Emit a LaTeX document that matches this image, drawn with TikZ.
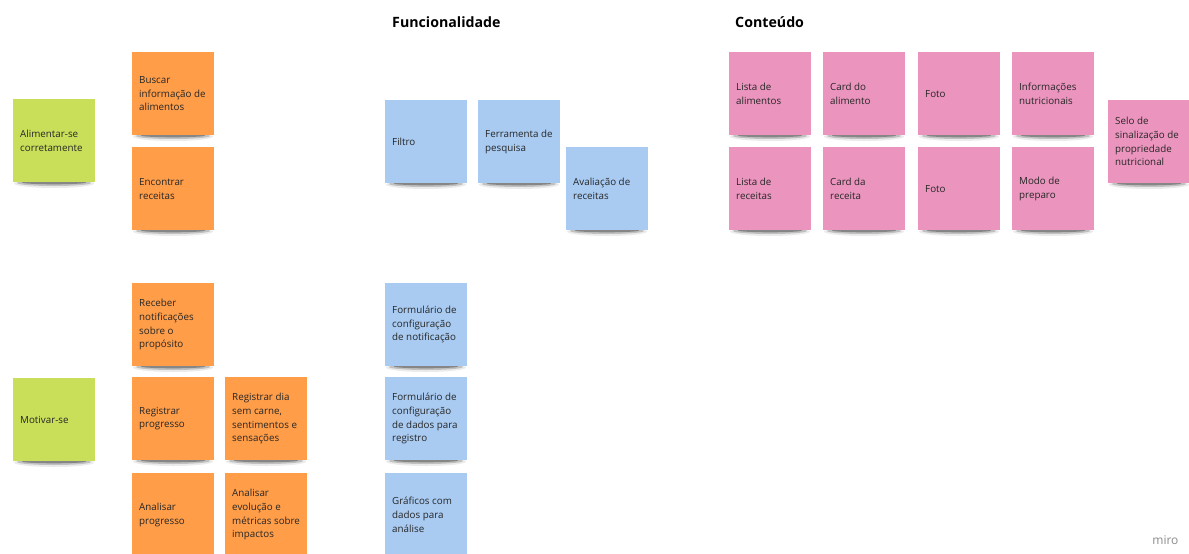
\documentclass[tikz,border=0pt]{standalone}
\usepackage{fontspec}
\setmainfont{Open Sans}
\definecolor{cgreen}{HTML}{C9DF5A}
\definecolor{corange}{HTML}{FF9D48}
\definecolor{cblue}{HTML}{A9CBF2}
\definecolor{cpink}{HTML}{EB95BE}
\definecolor{ctext}{HTML}{262626}
\tikzset{
  note/.style={anchor=north west, minimum width=82pt, minimum height=83pt,
    inner sep=0pt, draw=none},
  notetext/.style={anchor=west, inner sep=0pt, align=left, text=ctext,
    font=\fontsize{9.8}{13.7}\selectfont},
  green/.style={note, fill=cgreen},
  orange/.style={note, fill=corange},
  blue/.style={note, fill=cblue},
  pink/.style={note, fill=cpink},
  title/.style={anchor=west, inner xsep=0pt, font=\fontsize{14.2}{17}\selectfont\bfseries, text=black},
}
\newcommand{\stickynote}[5]{%
  \fill[black, opacity=0.08] (#2+41,#3+84.5) ellipse [x radius=40, y radius=4.5];
  \fill[black, opacity=0.18] (#2+41,#3+84) ellipse [x radius=37, y radius=3];
  \fill[black, opacity=0.30] (#2+41,#3+83.5) ellipse [x radius=32, y radius=1.8];
  \node[#4] (#1) at (#2,#3) {};
  \node[notetext] (#1-text) at ([xshift=7pt]#1.west) {#5};
}
\begin{document}
\begin{tikzpicture}[x=1pt, y=-1pt]
\useasboundingbox (0,0) rectangle (1189,554);
\clip (0,0) rectangle (1189,554);
\fill[white] (0,0) rectangle (1189,554);

\node[title] (tfunc) at (392,22) {Funcionalidade};
\node[title] (tcont) at (735,22) {Conteúdo};

\stickynote{g1}{13}{99}{green}{Alimentar-se\\corretamente}
\stickynote{o1}{132}{52}{orange}{Buscar\\informação de\\alimentos}
\stickynote{o2}{132}{147}{orange}{Encontrar\\receitas}
\stickynote{b1}{385}{100}{blue}{Filtro}
\stickynote{b2}{478}{100}{blue}{Ferramenta de\\pesquisa}
\stickynote{b3}{566}{147}{blue}{Avaliação de\\receitas}

\stickynote{p1}{729}{52}{pink}{Lista de\\alimentos}
\stickynote{p2}{823}{52}{pink}{Card do\\alimento}
\stickynote{p3}{918}{52}{pink}{Foto}
\stickynote{p4}{1012}{52}{pink}{Informações\\nutricionais}
\stickynote{p5}{729}{147}{pink}{Lista de\\receitas}
\stickynote{p6}{823}{147}{pink}{Card da\\receita}
\stickynote{p7}{918}{147}{pink}{Foto}
\stickynote{p8}{1012}{147}{pink}{Modo de\\preparo}
\stickynote{p9}{1108}{100}{pink}{Selo de\\sinalização de\\propriedade\\nutricional}

\stickynote{g2}{13}{378}{green}{Motivar-se}
\stickynote{o3}{132}{283}{orange}{Receber\\notificações\\sobre o\\propósito}
\stickynote{o4}{132}{377}{orange}{Registrar\\progresso}
\stickynote{o5}{225}{377}{orange}{Registrar dia\\sem carne,\\sentimentos e\\sensações}
\stickynote{o6}{132}{473}{orange}{Analisar\\progresso}
\stickynote{o7}{225}{473}{orange}{Analisar\\evolução e\\métricas sobre\\impactos}
\stickynote{b4}{385}{283}{blue}{Formulário de\\configuração\\de notificação}
\stickynote{b5}{385}{377}{blue}{Formulário de\\configuração\\de dados para\\registro}
\stickynote{b6}{385}{473}{blue}{Gráficos com\\dados para\\análise}

\node[anchor=east, text=black!45, font=\fontsize{12}{14}\selectfont] (miro) at (1182,540) {miro};
\end{tikzpicture}
\end{document}
